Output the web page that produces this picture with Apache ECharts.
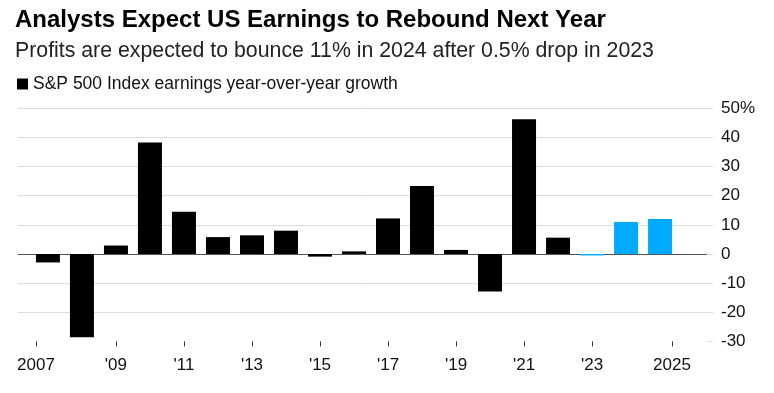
<!DOCTYPE html>
<html>
<head>
<meta charset="utf-8">
<script src="https://cdn.jsdelivr.net/npm/echarts@6/dist/echarts.min.js"></script>
<style>
html,body{margin:0;padding:0;background:#fff;}
#chart{width:774px;height:393px;}
</style>
</head>
<body>
<div id="chart"></div>
<script>
// ---- data ----
const years = [2007, 2008, 2009, 2010, 2011, 2012, 2013, 2014, 2015, 2016, 2017, 2018, 2019, 2020, 2021, 2022, 2023, 2024, 2025];
const growth = [-2.9, -28.6, 2.9, 38.3, 14.5, 5.8, 6.4, 8.0, -0.9, 0.9, 12.2, 23.3, 1.4, -12.9, 46.2, 5.6, -0.5, 11.0, 12.0];
const firstEstimateYear = 2023;
const tickYears = [2007, 2009, 2011, 2013, 2015, 2017, 2019, 2021, 2023, 2025];
const tickLabels = ['2007', "'09", "'11", "'13", "'15", "'17", "'19", "'21", "'23", '2025'];
const yTicks = [-30, -20, -10, 0, 10, 20, 30, 40, 50];
const seriesName = 'S&P 500 Index earnings year-over-year growth';

// ---- build ----
const FONT = 'Liberation Sans';
const halfBar = 0.35;
const xMin = years[0] - 0.88;
const xMax = years[years.length - 1] + 1.38;
const tickPos = tickYears.map((y, i) => i === 0 ? y - halfBar : (i === tickYears.length - 1 ? y + halfBar : y));
const labelMap = {};
tickPos.forEach((p, i) => { labelMap[p.toFixed(3)] = tickLabels[i]; });

const barData = years.map((y, i) => ({
  value: [y, growth[i]],
  itemStyle: { color: y >= firstEstimateYear ? '#00aaff' : '#000000' }
}));

const splitColors = yTicks.map((v, i) => i === 0 ? 'rgba(0,0,0,0)' : '#dcdcdc');

const chart = echarts.init(document.getElementById('chart'), null, { renderer: 'canvas' });
chart.setOption({
  animation: false,
  backgroundColor: '#ffffff',
  textStyle: { fontFamily: FONT },
  title: [
    { text: 'Analysts Expect US Earnings to Rebound Next Year', left: 10, top: 3,
      textStyle: { fontFamily: FONT, fontSize: 24, fontWeight: 'bold', color: '#000' } },
    { text: 'Profits are expected to bounce 11% in 2024 after 0.5% drop in 2023', left: 10, top: 36,
      textStyle: { fontFamily: FONT, fontSize: 21.3, fontWeight: 'normal', color: '#222' } }
  ],
  legend: {
    left: 12, top: 70, icon: 'rect', itemWidth: 11, itemHeight: 11, itemGap: 8,
    textStyle: { fontFamily: FONT, fontSize: 17.5, color: '#111' },
    data: [{ name: seriesName, itemStyle: { color: '#000' } }]
  },
  grid: { left: 18, right: 67, top: 108.3, bottom: 51.6, containLabel: false },
  xAxis: [
    {
      type: 'value', min: xMin, max: xMax,
      axisLine: { show: true, onZero: true, lineStyle: { color: '#555', width: 1 } },
      axisTick: { show: false }, axisLabel: { show: false }, splitLine: { show: false }
    },
    {
      type: 'value', min: xMin, max: xMax, position: 'bottom',
      axisLine: { show: false, onZero: false },
      axisTick: { show: true, customValues: tickPos, length: 5, lineStyle: { color: '#333', width: 1 } },
      axisLabel: { show: true, customValues: tickPos, margin: 15, fontFamily: FONT, fontSize: 17, color: '#111',
        formatter: v => labelMap[Number(v).toFixed(3)] || '' },
      splitLine: { show: false }
    }
  ],
  yAxis: {
    type: 'value', position: 'right', min: -30, max: 50, interval: 10,
    axisLine: { show: false },
    axisTick: { show: true, length: 6, lineStyle: { color: '#dcdcdc' } },
    axisLabel: { margin: 14, fontFamily: FONT, fontSize: 17, color: '#111',
      formatter: v => v === 50 ? v + '%' : String(v) },
    splitLine: { show: true, lineStyle: { color: splitColors, width: 1 } }
  },
  series: [{
    name: seriesName, type: 'bar', xAxisIndex: 0, barWidth: 24,
    data: barData, z: 3
  }]
});
</script>
</body>
</html>
